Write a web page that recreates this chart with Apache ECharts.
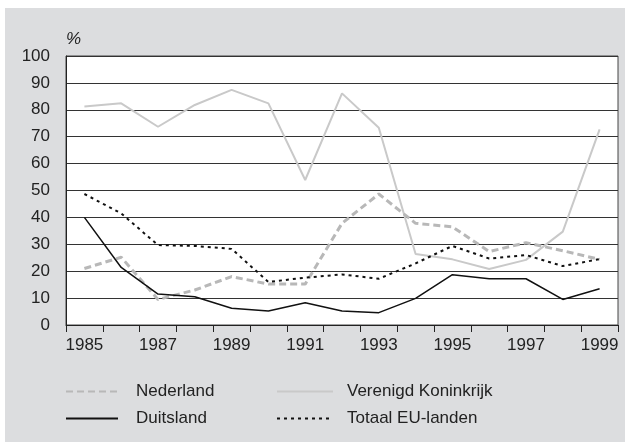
<!DOCTYPE html>
<html>
<head>
<meta charset="utf-8">
<script src="https://cdn.jsdelivr.net/npm/echarts@6/dist/echarts.min.js"></script>
<style>
  html, body { margin: 0; padding: 0; background: #fff; }
  #chart { width: 625px; height: 443px; }
</style>
</head>
<body>
<div id="chart"></div>
<script>
var years = ['1985','1986','1987','1988','1989','1990','1991','1992','1993','1994','1995','1996','1997','1998','1999'];

// aandeel in %
var nederland = [21, 25.2, 9.5, 13, 18, 15.2, 15.2, 37.8, 48.7, 37.8, 36.5, 27.3, 30.6, 27.6, 24.4];
var verenigdKoninkrijk = [81.2, 82.4, 73.7, 81.8, 87.4, 82.4, 53.9, 86.1, 73.3, 26.4, 24.4, 20.8, 24.2, 34.7, 72.7];
var duitsland = [40, 21.4, 11.5, 10.5, 6.2, 5.2, 8.3, 5.2, 4.6, 9.9, 18.7, 17.2, 17.2, 9.5, 13.5];
var totaalEU = [48.7, 41.5, 29.7, 29.4, 28.3, 16, 17.6, 18.8, 17.2, 22.9, 29.4, 24.7, 26, 21.9, 24.5];

var fontName = 'Liberation Sans, Arial, sans-serif';

var chart = echarts.init(document.getElementById('chart'));

var option = {
    animation: false,
    textStyle: { fontFamily: fontName },
    graphic: [
        {
            type: 'rect',
            z: -10,
            shape: { x: 5, y: 8, width: 620, height: 434 },
            style: { fill: '#dcdddf' }
        }
    ],
    grid: {
        left: 66,
        right: 7,
        top: 56,
        bottom: 118,
        show: true,
        backgroundColor: '#fff',
        borderColor: '#444',
        borderWidth: 1
    },
    legend: [
        {
            left: 65,
            top: 383,
            padding: 0,
            orient: 'vertical',
            itemWidth: 52,
            itemHeight: 14,
            itemGap: 10,
            itemStyle: { opacity: 0 },
            textStyle: { fontSize: 17, color: '#222', fontFamily: fontName, padding: [0, 0, 0, 13] },
            data: ['Nederland', 'Duitsland']
        },
        {
            left: 276,
            top: 383,
            padding: 0,
            orient: 'vertical',
            itemWidth: 56,
            itemHeight: 14,
            itemGap: 10,
            itemStyle: { opacity: 0 },
            textStyle: { fontSize: 17, color: '#222', fontFamily: fontName, padding: [0, 0, 0, 9] },
            data: ['Verenigd Koninkrijk', 'Totaal EU-landen']
        }
    ],
    xAxis: {
        type: 'category',
        data: years,
        boundaryGap: true,
        axisLine: { lineStyle: { color: '#222', width: 1 } },
        axisTick: { show: true, interval: 0, length: 7, lineStyle: { color: '#222' } },
        axisLabel: { interval: 1, fontSize: 17, color: '#222', margin: 12, fontFamily: fontName },
        splitLine: { show: false }
    },
    yAxis: {
        type: 'value',
        min: 0,
        max: 100,
        interval: 10,
        name: '%',
        nameLocation: 'end',
        nameGap: 8,
        nameTextStyle: { fontSize: 17, fontStyle: 'italic', color: '#222', align: 'left', fontFamily: fontName },
        axisLine: { show: true, lineStyle: { color: '#222', width: 1 } },
        axisTick: { show: false },
        axisLabel: { fontSize: 17, color: '#222', margin: 16, fontFamily: fontName },
        splitLine: { show: true, lineStyle: { color: '#333', width: 1 } }
    },
    series: [
        {
            name: 'Verenigd Koninkrijk',
            type: 'line',
            data: verenigdKoninkrijk,
            symbol: 'none',
            color: '#c9c9c9',
            lineStyle: { color: '#c9c9c9', width: 2 }
        },
        {
            name: 'Nederland',
            type: 'line',
            data: nederland,
            symbol: 'none',
            color: '#b8b8b8',
            lineStyle: { color: '#b8b8b8', width: 3, type: [7, 4] }
        },
        {
            name: 'Duitsland',
            type: 'line',
            data: duitsland,
            symbol: 'none',
            color: '#111',
            lineStyle: { color: '#111', width: 1.5 }
        },
        {
            name: 'Totaal EU-landen',
            type: 'line',
            data: totaalEU,
            symbol: 'none',
            color: '#111',
            lineStyle: { color: '#111', width: 2, type: [3, 4] }
        }
    ]
};

chart.setOption(option);
</script>
</body>
</html>
